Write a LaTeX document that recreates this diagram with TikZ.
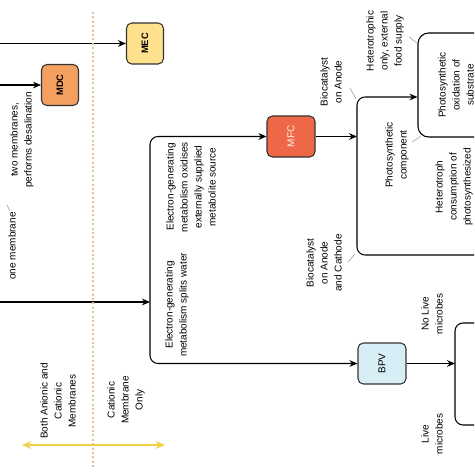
\documentclass[tikz,border=0pt]{standalone}
\usepackage{fontspec}
\setmainfont{Liberation Sans}
\usetikzlibrary{arrows.meta,calc}

\definecolor{mecfill}{RGB}{255,224,140}
\definecolor{mdcfill}{RGB}{244,160,96}
\definecolor{mfcfill}{RGB}{238,104,72}
\definecolor{bpvfill}{RGB}{215,238,246}
\definecolor{edgegray}{RGB}{51,51,51}
\definecolor{sepline}{RGB}{222,196,150}
\definecolor{spanline}{RGB}{242,207,72}

\tikzset{
	cell/.style={draw=edgegray, line width=0.8pt, rounded corners=4pt, rotate=90,
		minimum width=30.75pt, minimum height=27.75pt, inner sep=0pt,
		font=\fontsize{7}{8}\selectfont\bfseries},
	widecell/.style={cell, minimum height=36pt, font=\fontsize{7.5}{8}\selectfont},
	panel/.style={draw=black, line width=0.8pt, rounded corners=8pt, rotate=90,
		minimum width=78pt, minimum height=57pt, align=center,
		font=\fontsize{7.5}{10.5}\selectfont},
	lbl/.style={rotate=90, align=center, inner sep=0pt, font=\fontsize{7.5}{10.5}\selectfont},
	link/.style={-{Stealth[length=6pt,width=5pt]}, line width=0.8pt},
	bus/.style={line width=0.8pt, rounded corners=6pt},
	lead/.style={gray!60, line width=0.6pt},
}

\begin{document}
\begin{tikzpicture}[x=0.75pt,y=0.75pt,yscale=-1,xscale=1]
	\useasboundingbox (0,0) rectangle (474,474);
	\clip (0,0) rectangle (474,474);
	
	%Shape: device boxes
	\node[cell, fill=mecfill] (mec) at (145,43.5) {MEC};
	\node[cell, fill=mdcfill] (mdc) at (60,85) {MDC};
	\node[widecell, fill=mfcfill, text=white!90!orange] (mfc) at (291,136.5) {MFC};
	\node[widecell, fill=bpvfill] (bpv) at (382,363.5) {BPV};
	\node[panel] (photo) at (456,85) {Photosynthetic\\oxidation of\\substrate};
	
	%Branch points
	\coordinate (inMEC) at (-10,43.5);
	\coordinate (inMDC) at (-10,85);
	\coordinate (inMain) at (-10,302);
	\coordinate (split) at (150,302);
	\coordinate (splitMFC) at (357,136.5);
	\coordinate (splitBPV) at (455,363.5);
	\coordinate (hetero) at (500,255);
	\coordinate (noLive) at (500,323);
	\coordinate (live) at (500,425);
	
	%Straight Lines
	\draw[link] (inMEC) -- (mec);
	\draw[link] (inMDC) -- (mdc);
	\draw[link] (inMain) -- (split);
	\draw[link, bus] (split) |- (mfc);
	\draw[link, bus] (split) |- (bpv);
	\draw[link] (mfc) -- (splitMFC);
	\draw[link, bus] (splitMFC) |- ($(photo.north)+(0,12)$);
	\draw[bus] (splitMFC) |- (hetero);
	\draw[link] (bpv) -- (splitBPV);
	\draw[bus] (noLive) -| (splitBPV) |- (live);
	
	%Membrane separator and span
	\draw[sepline, line width=0.9pt, dash pattern=on 1.5pt off 1.8pt] (93,12) -- (93,467);
	\coordinate (spanL) at (22,445);
	\coordinate (spanR) at (165,445);
	\draw[spanline, line width=1.2pt, {Stealth[length=7pt,width=6pt]}-{Stealth[length=7pt,width=6pt]}] (spanL) -- (spanR);
	
	%Label pointers
	\draw[lead] (7,205) -- (10,211);
	\draw[lead] (350,88) -- (356,99);
	\draw[lead] (348,262) -- (355,254);
	\draw[lead] (409,37) -- (417,43);
	\draw[lead] (412,142) -- (421,136);
	
	% Text Node
	\node[lbl] (twoMem) at (22,140) {two membranes,\\performs desalination};
	% Text Node
	\node[lbl] (oneMem) at (12,246) {one membrane};
	% Text Node
	\node[lbl] (oxidises) at (191,187) {Electron-generating\\metabolism oxidises\\externally supplied\\metabolite source};
	% Text Node
	\node[lbl] (water) at (177,305) {Electron-generating\\metabolism splits water};
	% Text Node
	\node[lbl] (both) at (58,401) {Both Anionic and\\Cationic\\Membranes};
	% Text Node
	\node[lbl] (cationic) at (126,400) {Cationic\\Membrane\\Only};
	% Text Node
	\node[lbl] (anode) at (331,82) {Biocatalyst\\on Anode};
	% Text Node
	\node[lbl] (cathode) at (324,263) {Biocatalyst\\on Anode\\and Cathode};
	% Text Node
	\node[lbl] (food) at (385,41) {Heterotrophic\\only, external\\food supply};
	% Text Node
	\node[lbl] (component) at (397,155) {Photosynthetic\\component};
	% Text Node
	\node[lbl] (consume) at (454,187) {Heterotroph\\consumption of\\photosynthesized};
	% Text Node
	\node[lbl] (nolivetxt) at (432,314) {No Live\\microbes};
	% Text Node
	\node[lbl] (livetxt) at (432,434) {Live\\microbes};
	
\end{tikzpicture}
\end{document}
